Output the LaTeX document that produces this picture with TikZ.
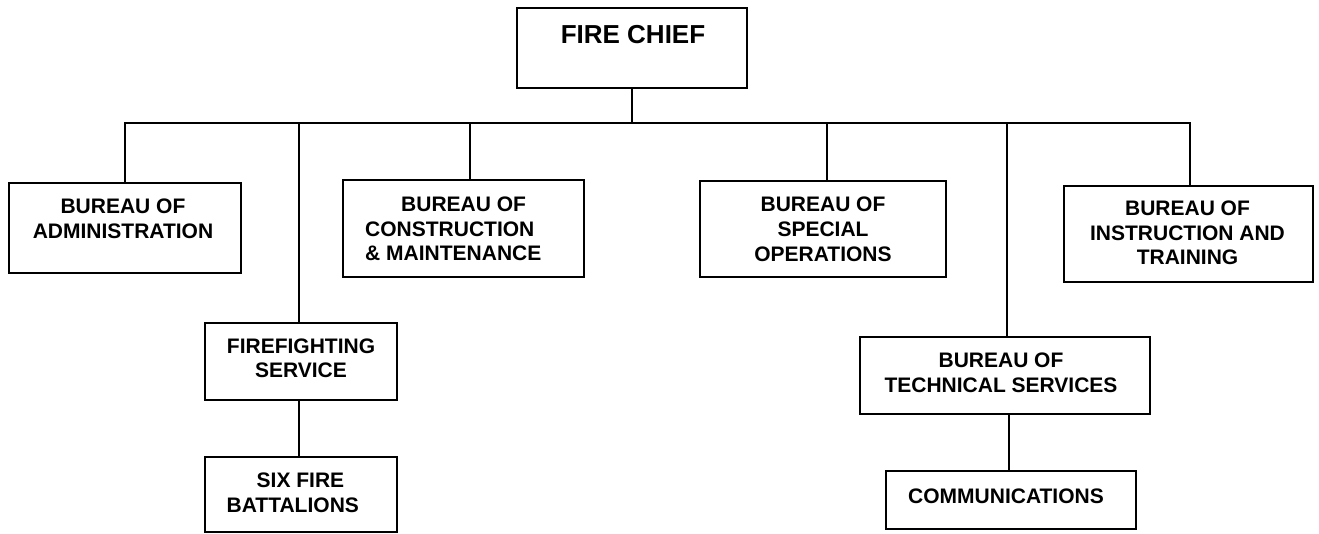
\documentclass[tikz,border=0pt]{standalone}
\usepackage{fontspec}
\setmainfont{Liberation Sans}
\begin{document}
\begin{tikzpicture}[x=1pt,y=-1pt,
  box/.style={draw=black, line width=2pt, rectangle, inner sep=0pt},
  lbl/.style={inner sep=0pt, anchor=north, align=center, font=\bfseries\fontsize{21}{24.5}\selectfont},
  conn/.style={draw=black, line width=2pt}]
\useasboundingbox (0,0) rectangle (1319,534);
% boxes
\node[box, minimum width=230pt, minimum height=80pt] (chief) at (632,48) {};
\node[box, minimum width=232pt, minimum height=90pt] (admin) at (125,228) {};
\node[box, minimum width=241pt, minimum height=97pt] (constr) at (463.5,228.5) {};
\node[box, minimum width=246pt, minimum height=96pt] (special) at (823,229) {};
\node[box, minimum width=249pt, minimum height=96pt] (instr) at (1188.5,234) {};
\node[box, minimum width=192pt, minimum height=77pt] (fire) at (301,361.5) {};
\node[box, minimum width=192pt, minimum height=75pt] (six) at (301,494.5) {};
\node[box, minimum width=290pt, minimum height=77pt] (tech) at (1005,375.5) {};
\node[box, minimum width=250pt, minimum height=58pt] (comm) at (1011,500) {};
% texts
\node[lbl, font=\bfseries\fontsize{26}{30}\selectfont] (chiefT) at (633,25) {FIRE CHIEF};
\node[lbl] (adminT) at (123,199) {BUREAU OF\\ADMINISTRATION};
\node[lbl, align=left, anchor=north west] (constrT) at (365,197) {\hspace*{36pt}BUREAU OF\\CONSTRUCTION\\\& MAINTENANCE};
\node[lbl, font=\bfseries\fontsize{21}{25}\selectfont] (specialT) at (823,197) {BUREAU OF\\SPECIAL\\OPERATIONS};
\node[lbl] (instrT) at (1187.5,201) {BUREAU OF\\INSTRUCTION AND\\TRAINING};
\node[lbl] (fireT) at (301,338.5) {FIREFIGHTING\\SERVICE};
\node[lbl, align=left, anchor=north west] (sixT) at (226.5,473) {\hspace*{30pt}SIX FIRE\\BATTALIONS};
\node[lbl] (techT) at (1001,353) {BUREAU OF\\TECHNICAL SERVICES};
\node[lbl] (commT) at (1006,488.5) {COMMUNICATIONS};
% connectors
\coordinate (busL) at (125,123);
\coordinate (busR) at (1190,123);
\draw[conn] (chief.south) -- (chief.south |- busL);
\draw[conn] ([xshift=-1pt]busL) -- ([xshift=1pt]busR);
\draw[conn] (admin.north) -- (admin.north |- busL);
\draw[conn] ([xshift=-2pt]fire.north) -- ([xshift=-2pt]fire.north |- busL);
\draw[conn] ([xshift=6.5pt]constr.north) -- ([xshift=6.5pt]constr.north |- busL);
\draw[conn] ([xshift=4pt]special.north) -- ([xshift=4pt]special.north |- busL);
\draw[conn] ([xshift=2pt]tech.north) -- ([xshift=2pt]tech.north |- busL);
\draw[conn] ([xshift=1.5pt]instr.north) -- ([xshift=1.5pt]instr.north |- busL);
\draw[conn] ([xshift=-2pt]fire.south) -- ([xshift=-2pt]fire.south |- six.north);
\draw[conn] ([xshift=4pt]tech.south) -- ([xshift=4pt]tech.south |- comm.north);
\end{tikzpicture}
\end{document}
